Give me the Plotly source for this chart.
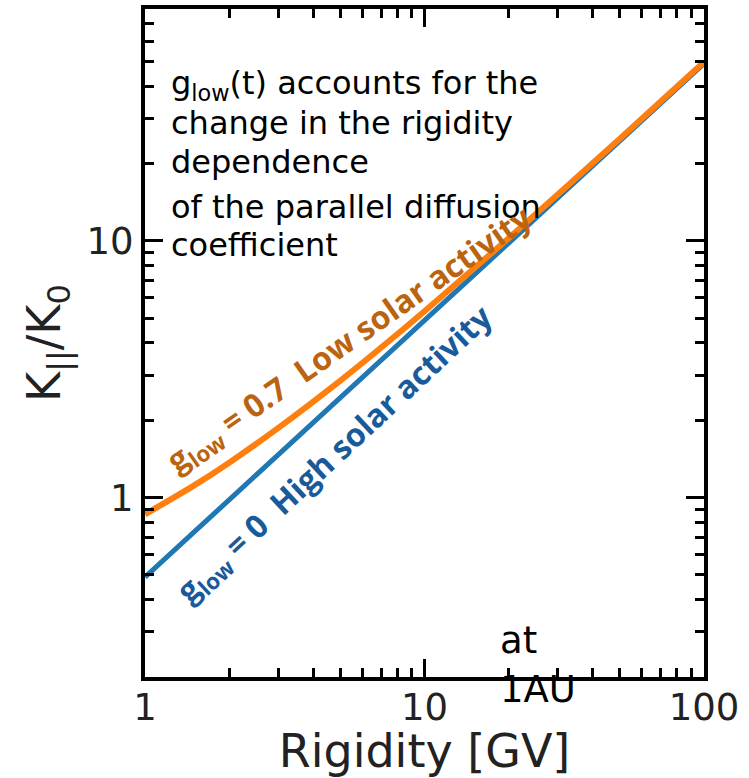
import plotly.graph_objects as go

# Parallel diffusion coefficient vs rigidity
rigidity = [1, 1.5, 2, 3, 5, 7, 10, 20, 50, 100]
k_high_activity = [0.49, 0.735, 0.98, 1.47, 2.45, 3.43, 4.9, 9.8, 24.5, 49.0]   # g_low = 0
k_low_activity = [0.86, 1.115, 1.367, 1.868, 2.855, 3.84, 5.32, 10.24, 25.0, 49.7]  # g_low = 0.7

x_major = [1, 10, 100]
x_major_text = ["1", "10", "100"]
y_major = [1, 10]
y_major_text = ["1", "10"]
x_minor = [2, 3, 4, 5, 6, 7, 8, 9, 20, 30, 40, 50, 60, 70, 80, 90]
y_minor = [0.2, 0.3, 0.4, 0.5, 0.6, 0.7, 0.8, 0.9, 2, 3, 4, 5, 6, 7, 8, 9,
           20, 30, 40, 50, 60, 70, 80]

description = [
    "g<sub>low</sub>(t) accounts for the",
    "change in the rigidity",
    "dependence",
    "of the parallel diffusion",
    "coefficient",
]
description_y = [0.886, 0.829, 0.771, 0.704, 0.647]

BLUE = "#1f77b4"
ORANGE = "#ff7f0e"
BLUE_TEXT = "#195a9b"
ORANGE_TEXT = "#bb6410"
TEXT_FONT = "DejaVu Sans"
LABEL_FONT = "Open Sans"
TICK_FONT = "DejaVu Sans"

fig = go.Figure()
fig.add_trace(go.Scatter(x=rigidity, y=k_high_activity, mode="lines",
                         line=dict(color=BLUE, width=5, shape="spline", smoothing=0.8),
                         showlegend=False))
fig.add_trace(go.Scatter(x=rigidity, y=k_low_activity, mode="lines",
                         line=dict(color=ORANGE, width=6, shape="spline", smoothing=0.8),
                         showlegend=False))

axis_common = dict(
    showgrid=False, zeroline=False,
    showline=True, linecolor="black", linewidth=4, mirror="allticks",
    ticks="inside", ticklen=18, tickwidth=2.5, tickcolor="black",
    tickfont=dict(family=TICK_FONT, size=37, color="#222222"),
)

fig.update_xaxes(
    type="log", range=[0, 2],
    tickvals=x_major, ticktext=x_major_text,
    ticklabelstandoff=-5,
    minor=dict(tickvals=x_minor, ticks="inside", ticklen=9, tickwidth=2.5,
               tickcolor="black", showgrid=False),
    title=dict(text="Rigidity [GV]",
               font=dict(family=TICK_FONT, size=46, color="#222222"),
               standoff=6),
    **axis_common,
)
fig.update_yaxes(
    type="log", range=[-0.699, 1.903],
    tickvals=y_major, ticktext=y_major_text,
    minor=dict(tickvals=y_minor, ticks="inside", ticklen=9, tickwidth=2.5,
               tickcolor="black", showgrid=False),
    title=dict(text="K<sub>||</sub>/K<sub>0</sub>",
               font=dict(family=TICK_FONT, size=46, color="#222222"),
               standoff=12),
    **axis_common,
)

annotations = []
for line, yy in zip(description, description_y):
    annotations.append(dict(
        text=line, xref="paper", yref="paper", x=0.043, y=yy,
        xanchor="left", yanchor="middle", showarrow=False,
        font=dict(family=TEXT_FONT, size=32, color="black"),
    ))

annotations.append(dict(
    text="g<sub>low</sub> = 0.7  Low solar activity",
    xref="paper", yref="paper", x=0.367, y=0.504, textangle=-35,
    xanchor="center", yanchor="middle", showarrow=False,
    font=dict(family=LABEL_FONT, size=32, color=ORANGE_TEXT, weight="bold"),
))
annotations.append(dict(
    text="g<sub>low</sub> = 0  High solar activity",
    xref="paper", yref="paper", x=0.34, y=0.332, textangle=-43,
    xanchor="center", yanchor="middle", showarrow=False,
    font=dict(family=LABEL_FONT, size=32, color=BLUE_TEXT, weight="bold"),
))
annotations.append(dict(
    text="at", xref="paper", yref="paper", x=0.6315, y=0.055,
    xanchor="left", yanchor="middle", showarrow=False,
    font=dict(family=TEXT_FONT, size=37, color="black"),
))
annotations.append(dict(
    text="1AU", xref="paper", yref="paper", x=0.6315, y=-0.019,
    xanchor="left", yanchor="middle", showarrow=False,
    font=dict(family=TEXT_FONT, size=37, color="black"),
))

fig.update_layout(
    width=749, height=778,
    margin=dict(l=145, r=45, t=9, b=101, autoexpand=False),
    paper_bgcolor="white", plot_bgcolor="white",
    annotations=annotations,
)

fig.write_html("out.html")
